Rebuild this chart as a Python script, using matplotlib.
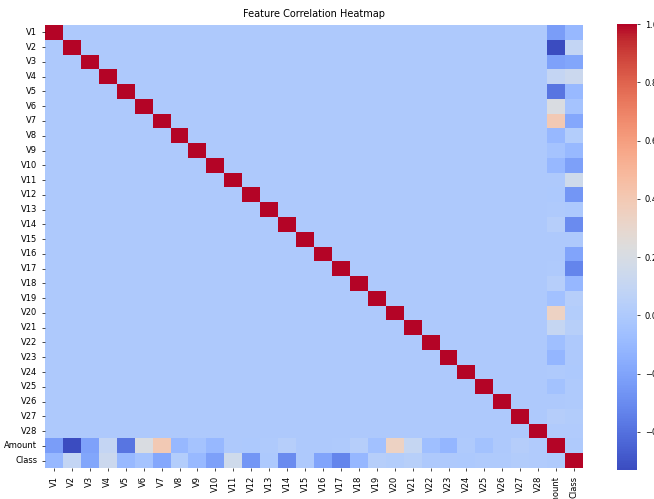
import numpy as np
import pandas as pd
import matplotlib
matplotlib.use('Agg')
import matplotlib.pyplot as plt
import seaborn as sns

labels = ['V%d' % i for i in range(1, 29)] + ['Amount', 'Class']

# correlation of Amount with V1..V28
amount_corr = [-0.228, -0.531, -0.211, 0.099, -0.386, 0.216, 0.397, -0.103, -0.044, -0.102,
               0.000, -0.010, 0.005, 0.034, -0.003, -0.004, 0.007, 0.036, -0.056, 0.339,
               0.106, -0.065, -0.113, 0.005, -0.048, -0.003, 0.029, 0.010]
# correlation of Class with V1..V28
class_corr = [-0.101, 0.091, -0.193, 0.133, -0.095, -0.044, -0.187, 0.020, -0.098, -0.217,
              0.155, -0.261, -0.005, -0.303, -0.004, -0.197, -0.326, -0.111, 0.035, 0.020,
              0.040, 0.001, -0.003, -0.007, 0.003, 0.004, 0.018, 0.010]
amount_class = 0.006

n = len(labels)
corr = np.eye(n)
corr[28, :28] = amount_corr
corr[:28, 28] = amount_corr
corr[29, :28] = class_corr
corr[:28, 29] = class_corr
corr[28, 29] = corr[29, 28] = amount_class
df = pd.DataFrame(corr, index=labels, columns=labels)

fig = plt.figure(figsize=(6.54, 4.99), dpi=100)
ax = fig.add_axes([45 / 654, 1 - 468 / 499, 538 / 654, 443 / 499])
cax = fig.add_axes([617 / 654, 1 - 470 / 499, 20 / 654, 446 / 499])

sns.heatmap(df, cmap='coolwarm', ax=ax, cbar_ax=cax,
            xticklabels=labels, yticklabels=labels)
ax.set_title('Feature Correlation Heatmap', fontsize=7)
ax.tick_params(axis='both', labelsize=6, length=2, width=0.5)
plt.setp(ax.get_xticklabels(), rotation=90)
plt.setp(ax.get_yticklabels(), rotation=0)
cax.tick_params(labelsize=6, length=2, width=0.5)
cax.set_yticks([-0.4, -0.2, 0.0, 0.2, 0.4, 0.6, 0.8, 1.0])

fig.savefig('out.png', dpi=100)
